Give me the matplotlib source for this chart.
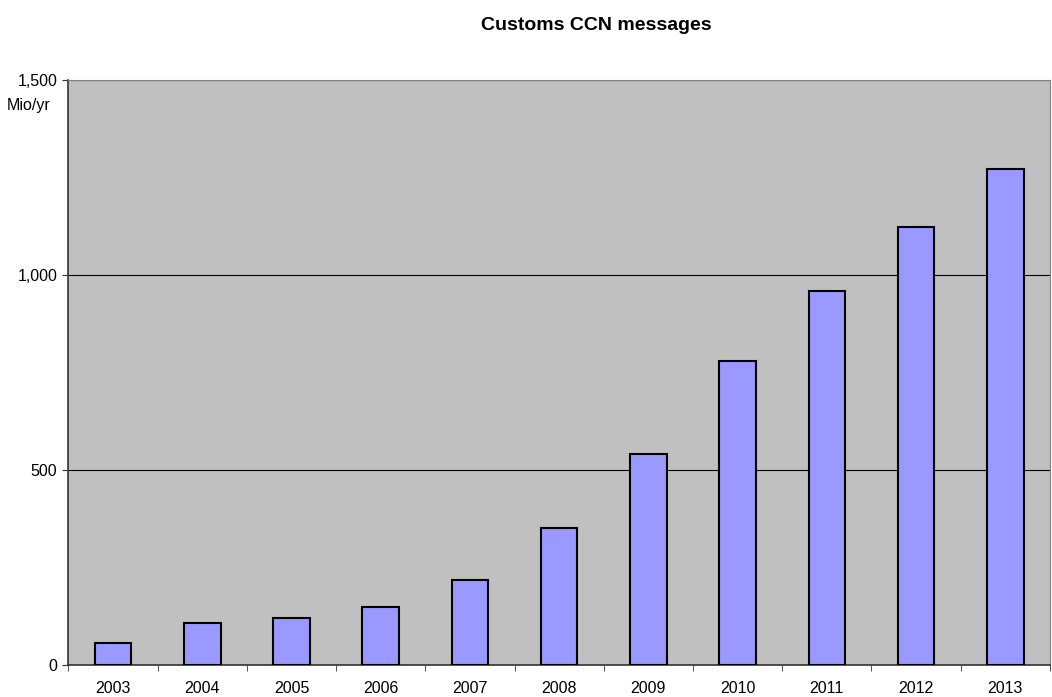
import matplotlib.pyplot as plt
from matplotlib.ticker import FuncFormatter, FixedLocator

plt.rcParams['font.family'] = ['Liberation Sans', 'DejaVu Sans']

# данные
years = ['2003', '2004', '2005', '2006', '2007', '2008',
         '2009', '2010', '2011', '2012', '2013']
messages = [58, 110, 122, 150, 220, 352, 541, 780, 960, 1123, 1272]

fig = plt.figure(figsize=(10.52, 6.97), dpi=100)
ax = fig.add_axes([0.0651, 0.0452, 0.9329, 0.8398])
ax.set_facecolor('#C0C0C0')

x = range(len(years))
ax.bar(x, messages, width=0.41, color='#9999FF', edgecolor='black',
       linewidth=1.5, zorder=3)

ax.set_xlim(-0.5, len(years) - 0.5)
ax.set_ylim(0, 1500)
ax.set_yticks([0, 500, 1000, 1500])
ax.yaxis.set_major_formatter(FuncFormatter(lambda v, p: f'{int(v):,}'))
ax.grid(axis='y', color='black', linewidth=0.8, zorder=1)

# подписи по центру категорий, засечки между ними
ax.set_xticks(list(x))
ax.set_xticklabels(years)
ax.xaxis.set_minor_locator(FixedLocator([i + 0.5 for i in range(-1, len(years))]))
ax.tick_params(axis='x', which='major', length=0, pad=11, labelsize=11.5)
ax.tick_params(axis='x', which='minor', length=4, direction='out', color='#333333')
ax.tick_params(axis='y', length=4, pad=4, direction='out', labelsize=11.5,
               color='#333333')

for side in ['left', 'bottom']:
    ax.spines[side].set_color('#333333')
    ax.spines[side].set_linewidth(1.2)
for side in ['top', 'right']:
    ax.spines[side].set_color('#808080')
    ax.spines[side].set_linewidth(0.8)

fig.text(0.5665, 0.964, 'Customs CCN messages', ha='center', va='center',
         fontsize=14, fontweight='bold')
fig.text(0.048, 0.849, 'Mio/yr', ha='right', va='center', fontsize=11.5)

fig.savefig('out.png', dpi=100)
